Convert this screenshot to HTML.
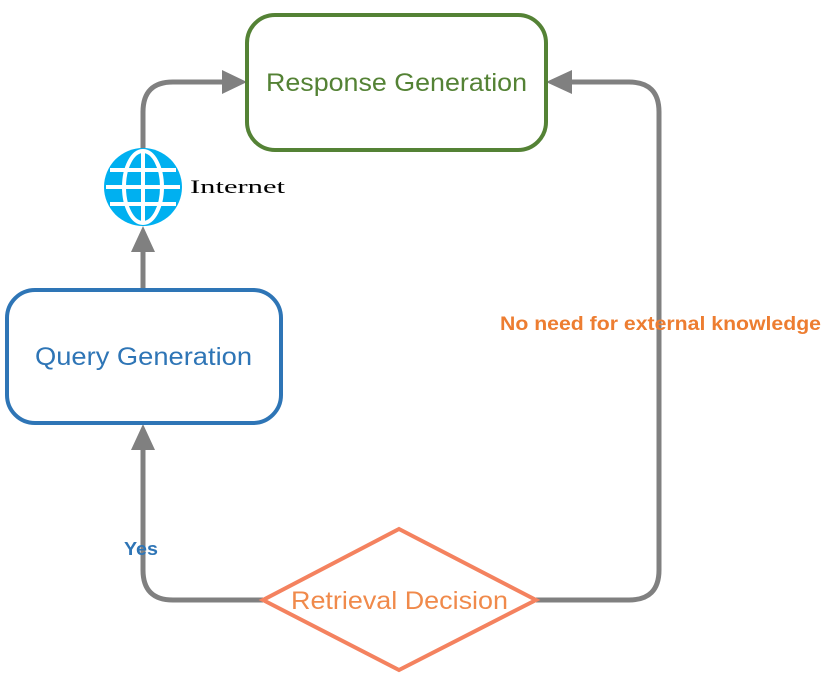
<!DOCTYPE html>
<html><head><style>
body{margin:0;background:#fff;width:831px;height:674px;overflow:hidden}
</style></head><body>
<svg width="831" height="674" xmlns="http://www.w3.org/2000/svg">
<g fill="none" stroke="#808080" stroke-width="5">
<path d="M143 290 V250"/>
<path d="M143 150 V112 Q143 82 173 82 H222"/>
<path d="M536 600 H629 Q659 600 659 570 V112 Q659 82 629 82 H572"/>
<path d="M263 600 H173 Q143 600 143 570 V450"/>
</g>
<g fill="#808080">
<polygon points="247,82 222,70 222,94"/>
<polygon points="546,82 572,70 572,94"/>
<polygon points="143,424 131,450 155,450"/>
<polygon points="143,226 131,252 155,252"/>
</g>
<rect x="247" y="15" width="299" height="135" rx="28" fill="#fff" stroke="#548235" stroke-width="4"/>
<text x="266" y="91" textLength="261" lengthAdjust="spacingAndGlyphs" font-family="Liberation Sans, sans-serif" font-size="25" fill="#548235">Response Generation</text>
<rect x="7" y="290" width="274" height="133" rx="28" fill="#fff" stroke="#2e75b6" stroke-width="4"/>
<text x="35" y="365" textLength="217" lengthAdjust="spacingAndGlyphs" font-family="Liberation Sans, sans-serif" font-size="25" fill="#2e75b6">Query Generation</text>
<polygon points="399,529 536,600 399,670 263,600" fill="#fff" stroke="#f4825f" stroke-width="4"/>
<text x="291" y="609" textLength="217" lengthAdjust="spacingAndGlyphs" font-family="Liberation Sans, sans-serif" font-size="25" fill="#f08a4b">Retrieval Decision</text>
<text x="124" y="555" textLength="34" lengthAdjust="spacingAndGlyphs" font-family="Liberation Sans, sans-serif" font-weight="bold" font-size="18" fill="#2e75b6">Yes</text>
<text x="500" y="330" textLength="321" lengthAdjust="spacingAndGlyphs" font-family="Liberation Sans, sans-serif" font-weight="bold" font-size="19" fill="#ed7d31">No need for external knowledge</text>
<g>
<circle cx="143" cy="187" r="39" fill="#00b0f0"/>
<g fill="none" stroke="#fff" stroke-width="4">
<line x1="143" y1="150" x2="143" y2="224"/>
<line x1="106" y1="187" x2="180" y2="187"/>
<line x1="110" y1="170" x2="176" y2="170"/>
<line x1="110" y1="204" x2="176" y2="204"/>
<ellipse cx="143" cy="187" rx="19" ry="36"/>
</g>
</g>
<text x="190" y="193" textLength="95" lengthAdjust="spacingAndGlyphs" font-family="Liberation Serif, serif" font-size="19" fill="#000">Internet</text>
</svg>
</body></html>
